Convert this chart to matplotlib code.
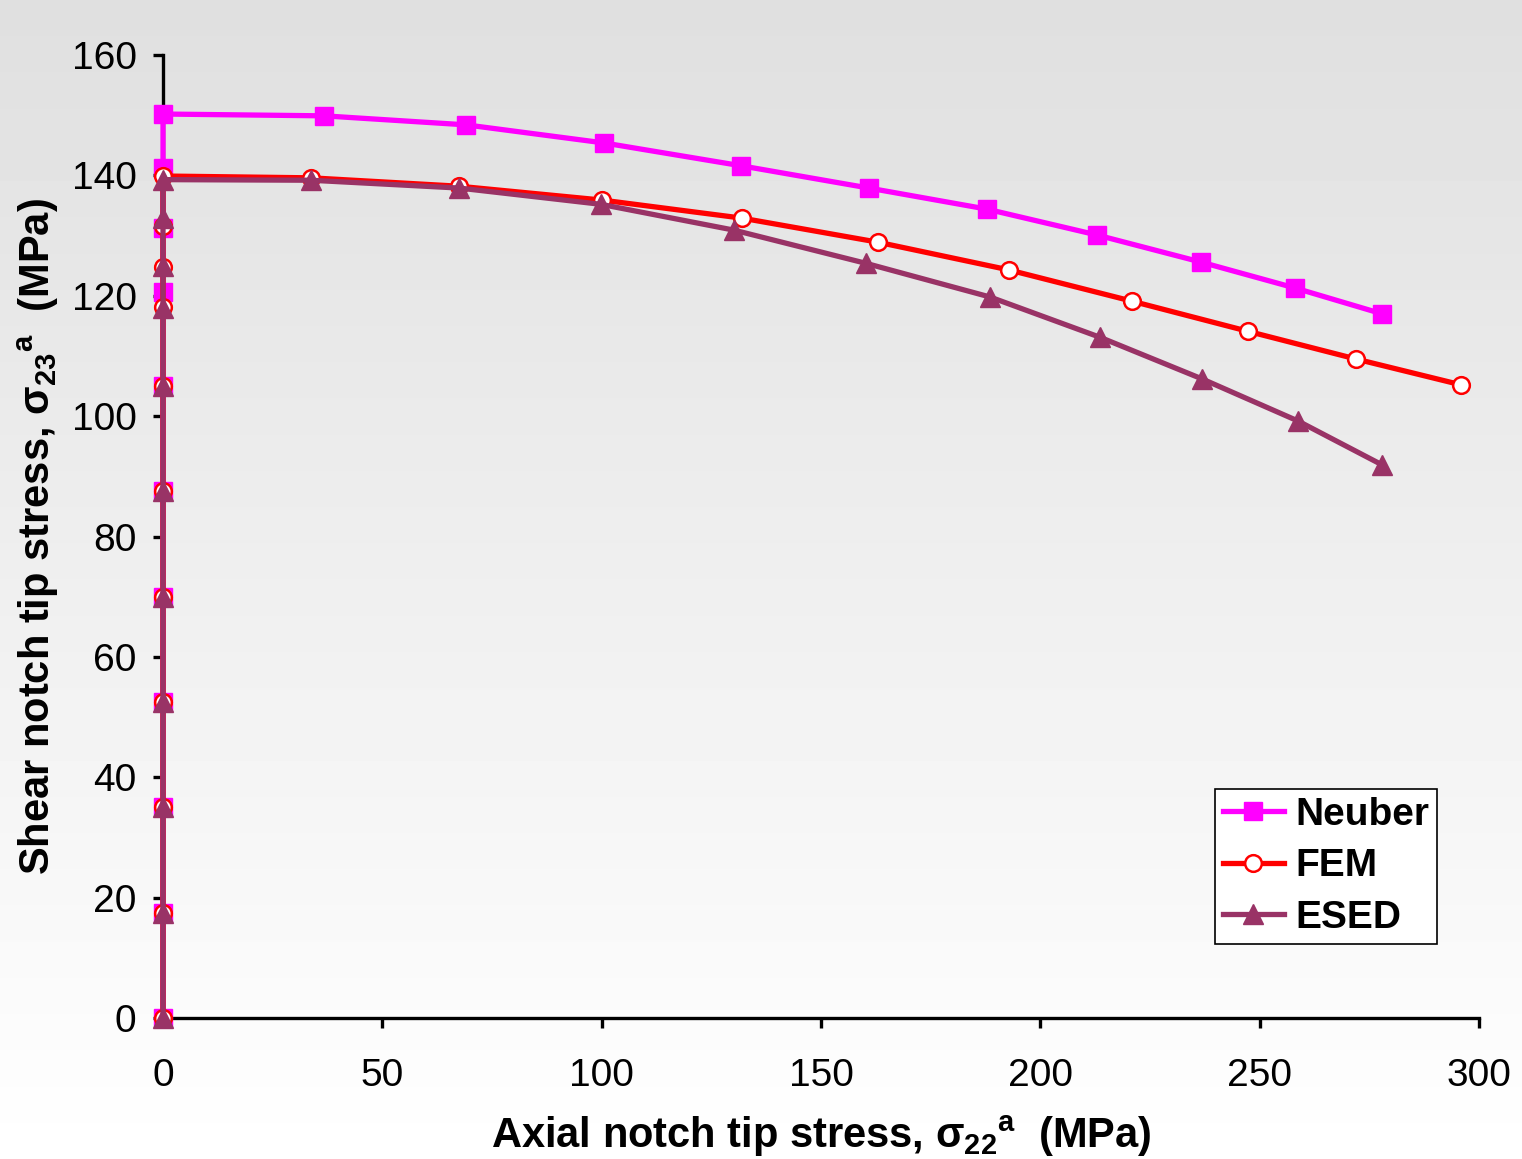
import numpy as np
import matplotlib
matplotlib.use("Agg")
import matplotlib.pyplot as plt

plt.rcParams['font.family'] = ['Liberation Sans', 'DejaVu Sans']

# Neuber
neuber_x = [0, 0, 0, 0, 0, 0, 0, 0, 0, 0, 0, 36.7, 69.1, 100.5, 131.8, 160.9, 187.8, 212.9, 236.6, 258.0, 277.9]
neuber_y = [0, 17.5, 35, 52.5, 70, 87.5, 105, 120.6, 131.2, 141.2, 150.2, 149.9, 148.4, 145.4, 141.6, 137.9, 134.4, 130.1, 125.6, 121.3, 117.0]
# FEM
fem_x = [0, 0, 0, 0, 0, 0, 0, 0, 0, 0, 0, 33.7, 67.5, 100.1, 132.0, 163.0, 192.8, 220.9, 247.3, 271.9, 295.9]
fem_y = [0, 17.5, 35, 52.5, 70, 87.5, 105, 118.2, 124.8, 131.6, 139.9, 139.6, 138.2, 135.9, 132.9, 128.9, 124.3, 119.1, 114.1, 109.5, 105.2]
# ESED
esed_x = [0, 0, 0, 0, 0, 0, 0, 0, 0, 0, 0, 33.7, 67.5, 99.8, 130.2, 160.2, 188.5, 213.6, 236.8, 258.7, 277.9]
esed_y = [0, 17.5, 35, 52.5, 70, 87.5, 105, 118.0, 125.0, 133.0, 139.3, 139.2, 137.9, 135.2, 130.9, 125.4, 119.8, 113.1, 106.2, 99.2, 91.9]

fig = plt.figure(figsize=(15.22, 11.59), dpi=100)

# gradient background over the whole figure
bg = fig.add_axes([0, 0, 1, 1], zorder=-10)
grad = np.linspace(0.875, 1.0, 256).reshape(-1, 1)
bg.imshow(grad, aspect='auto', cmap='gray', vmin=0, vmax=1, extent=[0, 1, 0, 1], origin='upper')
bg.axis('off')

ax = fig.add_axes([0.1071, 0.1217, 0.8647, 0.8308])
ax.set_facecolor('none')

ax.plot(neuber_x, neuber_y, color='#FF00FF', linewidth=3.8, marker='s', markersize=13,
        markerfacecolor='#FF00FF', markeredgecolor='#FF00FF', label='Neuber', clip_on=False, zorder=3)
ax.plot(fem_x, fem_y, color='#FF0000', linewidth=3.8, marker='o', markersize=12,
        markerfacecolor='white', markeredgecolor='#FF0000', markeredgewidth=1.8, label='FEM',
        clip_on=False, zorder=4)
ax.plot(esed_x, esed_y, color='#993366', linewidth=3.8, marker='^', markersize=14,
        markerfacecolor='#993366', markeredgecolor='#993366', label='ESED', clip_on=False, zorder=5)

ax.set_xlim(0, 300)
ax.set_ylim(0, 160)
ax.set_xticks(range(0, 301, 50))
ax.set_yticks(range(0, 161, 20))

for s in ['top', 'right']:
    ax.spines[s].set_visible(False)
for s in ['left', 'bottom']:
    ax.spines[s].set_linewidth(2.4)
ax.tick_params(axis='both', direction='out', length=7, width=2.4, labelsize=28)
ax.tick_params(axis='x', pad=22)
ax.tick_params(axis='y', pad=12)

ax.set_xlabel(r'Axial notch tip stress, $\mathregular{\sigma_{22}}^{\mathregular{a}}$  (MPa)',
              fontsize=30, fontweight='bold', labelpad=14)
ax.set_ylabel(r'Shear notch tip stress, $\mathregular{\sigma_{23}}^{\mathregular{a}}$  (MPa)',
              fontsize=30, fontweight='bold', labelpad=8)

leg = ax.legend(loc='lower right', bbox_to_anchor=(0.968, 0.077), borderaxespad=0,
                prop={'weight': 'bold', 'size': 28}, frameon=True, fancybox=False,
                handlelength=1.55, handletextpad=0.3, labelspacing=0.4, borderpad=0.2)
leg.get_frame().set_edgecolor('black')
leg.get_frame().set_linewidth(1.2)
leg.get_frame().set_facecolor('white')
leg.get_frame().set_alpha(1)

plt.savefig('out.png', dpi=100)
